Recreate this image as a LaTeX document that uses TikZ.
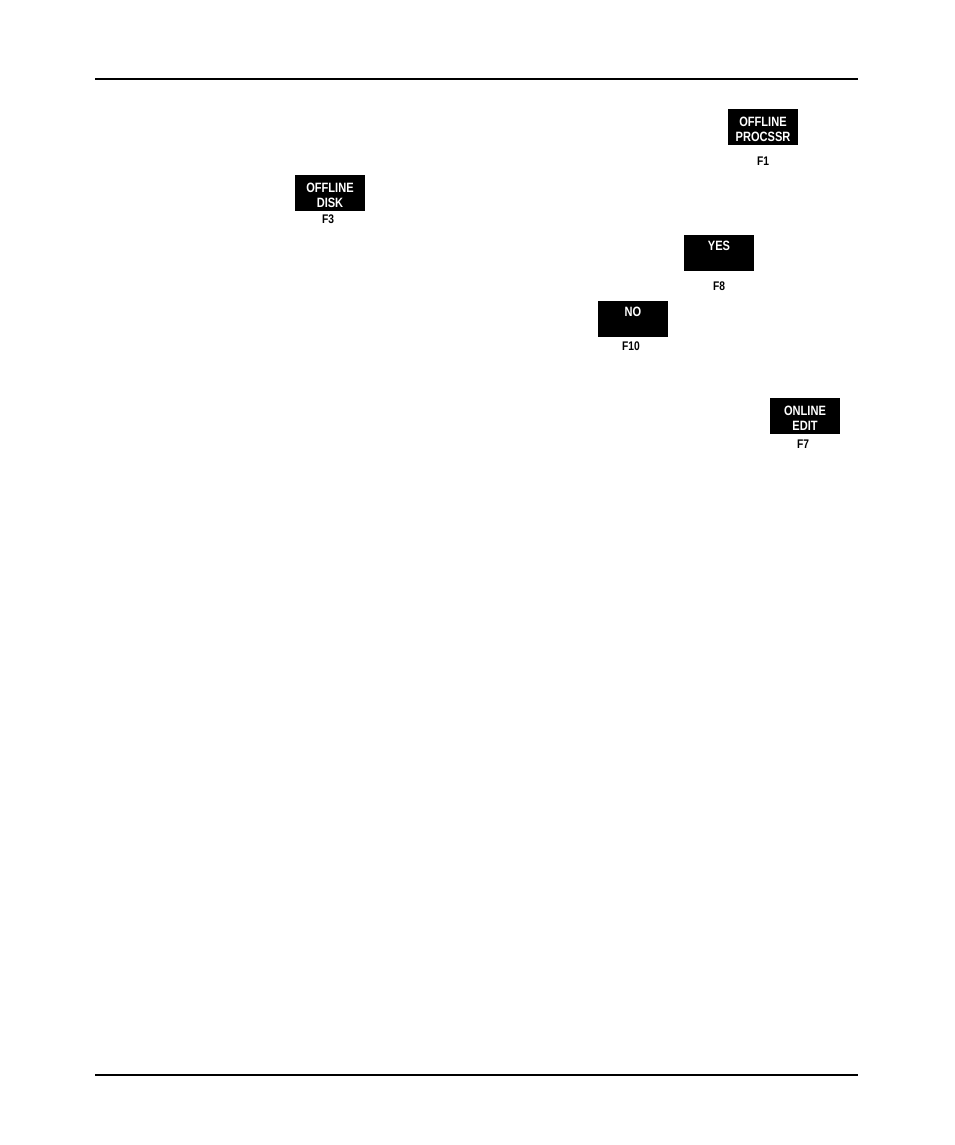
\documentclass[tikz,border=0pt]{standalone}
\usepackage{fontspec}
\newfontfamily\keyfont{Liberation Sans}[FakeStretch=0.82]
\usetikzlibrary{positioning}

\begin{document}
\begin{tikzpicture}[x=1pt,y=-1pt,
    key/.style={fill=black, minimum width=70pt, minimum height=36pt, inner sep=0pt},
    keytext/.style={text=white, inner sep=0pt, align=center, yshift=-2.5pt,
      font=\keyfont\bfseries\fontsize{13.5}{14.5}\selectfont},
    fkey/.style={font=\keyfont\bfseries\fontsize{12.5}{13}\selectfont, inner sep=0pt}]
    \useasboundingbox (0,0) rectangle (954,1145);
    % page rules
    \coordinate (t1) at (95,79);
    \coordinate (t2) at (858,79);
    \coordinate (b1) at (95,1075);
    \coordinate (b2) at (858,1075);
    \draw[line width=1.8pt] (t1) -- (t2);
    \draw[line width=1.8pt] (b1) -- (b2);
    % keys
    \node[key] (procssr) at (763,127) {};
    \node[keytext] (procssr-t) at (procssr) {OFFLINE\\PROCSSR};
    \node[fkey] (f1) at (763,161.5) {F1};
    \node[key] (disk) at (330,193) {};
    \node[keytext] (disk-t) at (disk) {OFFLINE\\DISK};
    \node[fkey] (f3) at (328,219.5) {F3};
    \node[key] (yes) at (719,252.5) {};
    \node[keytext, yshift=2pt] (yes-t) at (yes) {YES\\\mbox{}};
    \node[fkey] (f8) at (719,286.5) {F8};
    \node[key] (no) at (633,318.5) {};
    \node[keytext, yshift=2pt] (no-t) at (no) {NO\\\mbox{}};
    \node[fkey] (f10) at (631,346.5) {F10};
    \node[key] (edit) at (805,416) {};
    \node[keytext] (edit-t) at (edit) {ONLINE\\EDIT};
    \node[fkey] (f7) at (803,444.5) {F7};
\end{tikzpicture}
\end{document}
